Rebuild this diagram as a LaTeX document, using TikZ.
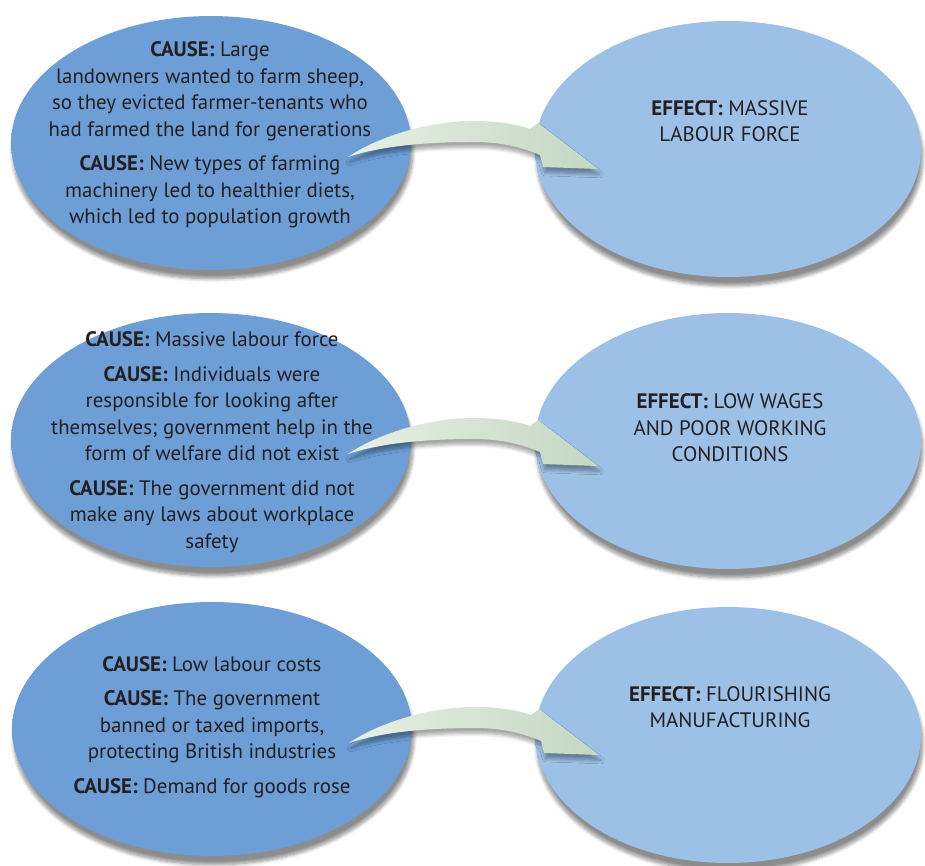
\documentclass[tikz,border=0pt]{standalone}
\usepackage{fontspec}
\setmainfont{PT Sans}
\usetikzlibrary{shapes.geometric,shadows.blur}
\definecolor{causeblue}{HTML}{6D9FD6}
\definecolor{causerim}{HTML}{5080BA}
\definecolor{effectblue}{HTML}{9DC1E6}
\definecolor{effectrim}{HTML}{7FA5D0}
\definecolor{arrowlight}{HTML}{E8F0E6}
\definecolor{arrowdark}{HTML}{C3D8C1}
\definecolor{inktext}{HTML}{231F20}
\pgfdeclareradialshading{causeshade}{\pgfpoint{0bp}{3bp}}{color(0bp)=(causeblue); color(41bp)=(causeblue); color(47bp)=(causerim); color(52bp)=(causerim!85!black)}
\pgfdeclareradialshading{effectshade}{\pgfpoint{0bp}{3bp}}{color(0bp)=(effectblue); color(41bp)=(effectblue); color(47bp)=(effectrim); color(52bp)=(effectrim!85!black)}
\tikzset{every node/.style={inner sep=0pt},
  causeoval/.style={ellipse,minimum width=8cm,minimum height=5.08cm,shade,shading=causeshade,
    blur shadow={shadow xshift=1pt,shadow yshift=-5pt,shadow blur steps=8,shadow opacity=45}},
  effectoval/.style={ellipse,minimum width=7.72cm,minimum height=5.12cm,shade,shading=effectshade,
    blur shadow={shadow xshift=1pt,shadow yshift=-5pt,shadow blur steps=8,shadow opacity=45}},
  ovaltext/.style={align=center,text=inktext,font=\fontsize{11.9}{15.1}\selectfont},
  bigarrow/.style={left color=arrowlight,right color=arrowdark,
    blur shadow={shadow xshift=1pt,shadow yshift=-3pt,shadow blur steps=6,shadow opacity=35}}}

\begin{document}
\begin{tikzpicture}[x=0.02cm,y=-0.02cm]
  \useasboundingbox (0,0) rectangle (925,865);
  \node[causeoval] (cause1) at (211,143) {};
  \node[effectoval] (effect1) at (728,149) {};
  \node[causeoval] (cause2) at (211,440) {};
  \node[effectoval] (effect2) at (728,441) {};
  \node[causeoval] (cause3) at (212,729) {};
  \node[effectoval] (effect3) at (728,735) {};
  \node[ovaltext] (causetext1) at (210,135) {\textbf{CAUSE:} Large\\ landowners wanted to farm sheep,\\ so they evicted farmer-tenants who\\ had farmed the land for generations\\[4.5pt] \textbf{CAUSE:} New types of farming\\ machinery led to healthier diets,\\ which led to population growth};
  \node[ovaltext] (effecttext1) at (730,121) {\textbf{EFFECT:} MASSIVE\\ LABOUR FORCE};
  \node[ovaltext] (causetext2) at (212,442) {\textbf{CAUSE:} Massive labour force\\[4.5pt] \textbf{CAUSE:} Individuals were\\ responsible for looking after\\ themselves; government help in the\\ form of welfare did not exist\\[4.5pt] \textbf{CAUSE:} The government did not\\ make any laws about workplace\\ safety};
  \node[ovaltext] (effecttext2) at (730,428) {\textbf{EFFECT:} LOW WAGES\\ AND POOR WORKING\\ CONDITIONS};
  \node[ovaltext] (causetext3) at (212,727) {\textbf{CAUSE:} Low labour costs\\[4.5pt] \textbf{CAUSE:} The government\\ banned or taxed imports,\\ protecting British industries\\[4.5pt] \textbf{CAUSE:} Demand for goods rose};
  \node[ovaltext] (effecttext3) at (730,707) {\textbf{EFFECT:} FLOURISHING\\ MANUFACTURING};
  \foreach \r in {1,2,3}
    \shade[bigarrow,shift={(cause\r.center)}] (137,14) .. controls (165,-5) and (215,-22) .. (262,-22)
      .. controls (290,-22) and (308,-18) .. (319,-14) -- (327,-20) -- (387,26) -- (332,24) -- (329,12)
      .. controls (305,2) and (285,-1) .. (262,-1) .. controls (215,-1) and (170,3) .. (137,14) -- cycle;
\end{tikzpicture}
\end{document}
